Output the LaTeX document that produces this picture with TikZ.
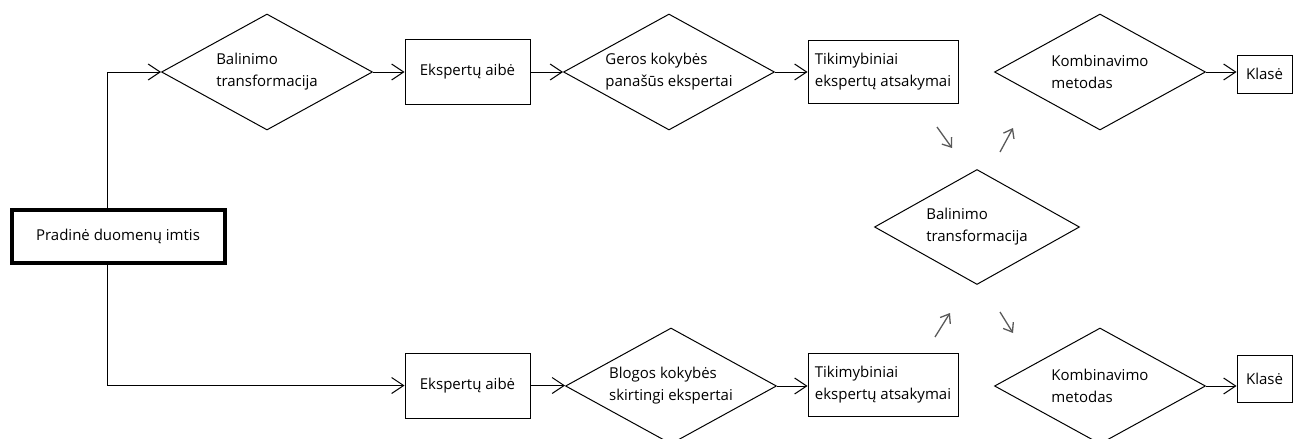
\documentclass[tikz,border=0pt]{standalone}
\usepackage{fontspec}
\setmainfont{Open Sans}
\usetikzlibrary{shapes.geometric,arrows.meta}

\begin{document}
\begin{tikzpicture}
  [x=1pt,y=-1pt,line width=1pt,
   every node/.style={font=\fontsize{15}{22}\selectfont,align=left,inner sep=0pt},
   box/.style={draw,rectangle,fill=white},
   choice/.style={draw,diamond,aspect=1.8,minimum width=211pt,minimum height=116pt},
   link/.style={-{Straight Barb[length=12pt,width=16pt]}},
   hint/.style={draw=black!65,line width=1.3pt,-{Straight Barb[length=8pt,width=12pt]}}]
  \clip (0,0) rectangle (1294,439);
  \node[box,line width=4pt,minimum width=213pt,minimum height=53pt] (src) at (118,236.5) {Pradinė duomenų imtis};
  % upper branch
  \node[choice] (bal1) at (267,72) {Balinimo\\transformacija};
  \node[box,minimum width=125pt,minimum height=65pt] (set1) at (467.5,72) {Ekspertų aibė};
  \node[choice] (good) at (669,72) {Geros kokybės\\panašūs ekspertai};
  \node[box,minimum width=150pt,minimum height=63pt] (prob1) at (883,71.5) {Tikimybiniai\\ekspertų atsakymai};
  \node[choice] (comb1) at (1100,72) {Kombinavimo\\metodas};
  \node[box,minimum width=55pt,minimum height=38pt] (cls1) at (1264.5,74) {Klasė};
  % middle
  \node[choice,minimum width=205pt,minimum height=115pt] (bal2) at (977,227) {Balinimo\\transformacija};
  % lower branch
  \node[box,minimum width=125pt,minimum height=65pt] (set2) at (467.5,385.5) {Ekspertų aibė};
  \node[choice] (bad) at (671,386) {Blogos kokybės\\skirtingi ekspertai};
  \node[box,minimum width=150pt,minimum height=63pt] (prob2) at (883,384.5) {Tikimybiniai\\ekspertų atsakymai};
  \node[choice] (comb2) at (1100,386) {Kombinavimo\\metodas};
  \node[box,minimum width=55pt,minimum height=47pt] (cls2) at (1264.5,378.5) {Klasė};

  \draw[link] ([xshift=-11pt]src.north) |- (bal1.west);
  \draw[link] ([xshift=-11pt]src.south) |- (set2.west);
  \foreach \from/\to in {bal1/set1,set1/good,good/prob1,comb1/cls1,set2/bad,bad/prob2,comb2/cls2}
    \draw[link] (\from.east) -- (\from.east -| \to.west);

  \draw[hint] (937,127) -- (952,148);
  \draw[hint] (1000,152) -- (1013,128);
  \draw[hint] (935,337) -- (950,313);
  \draw[hint] (1000,312) -- (1013,333);
\end{tikzpicture}
\end{document}
